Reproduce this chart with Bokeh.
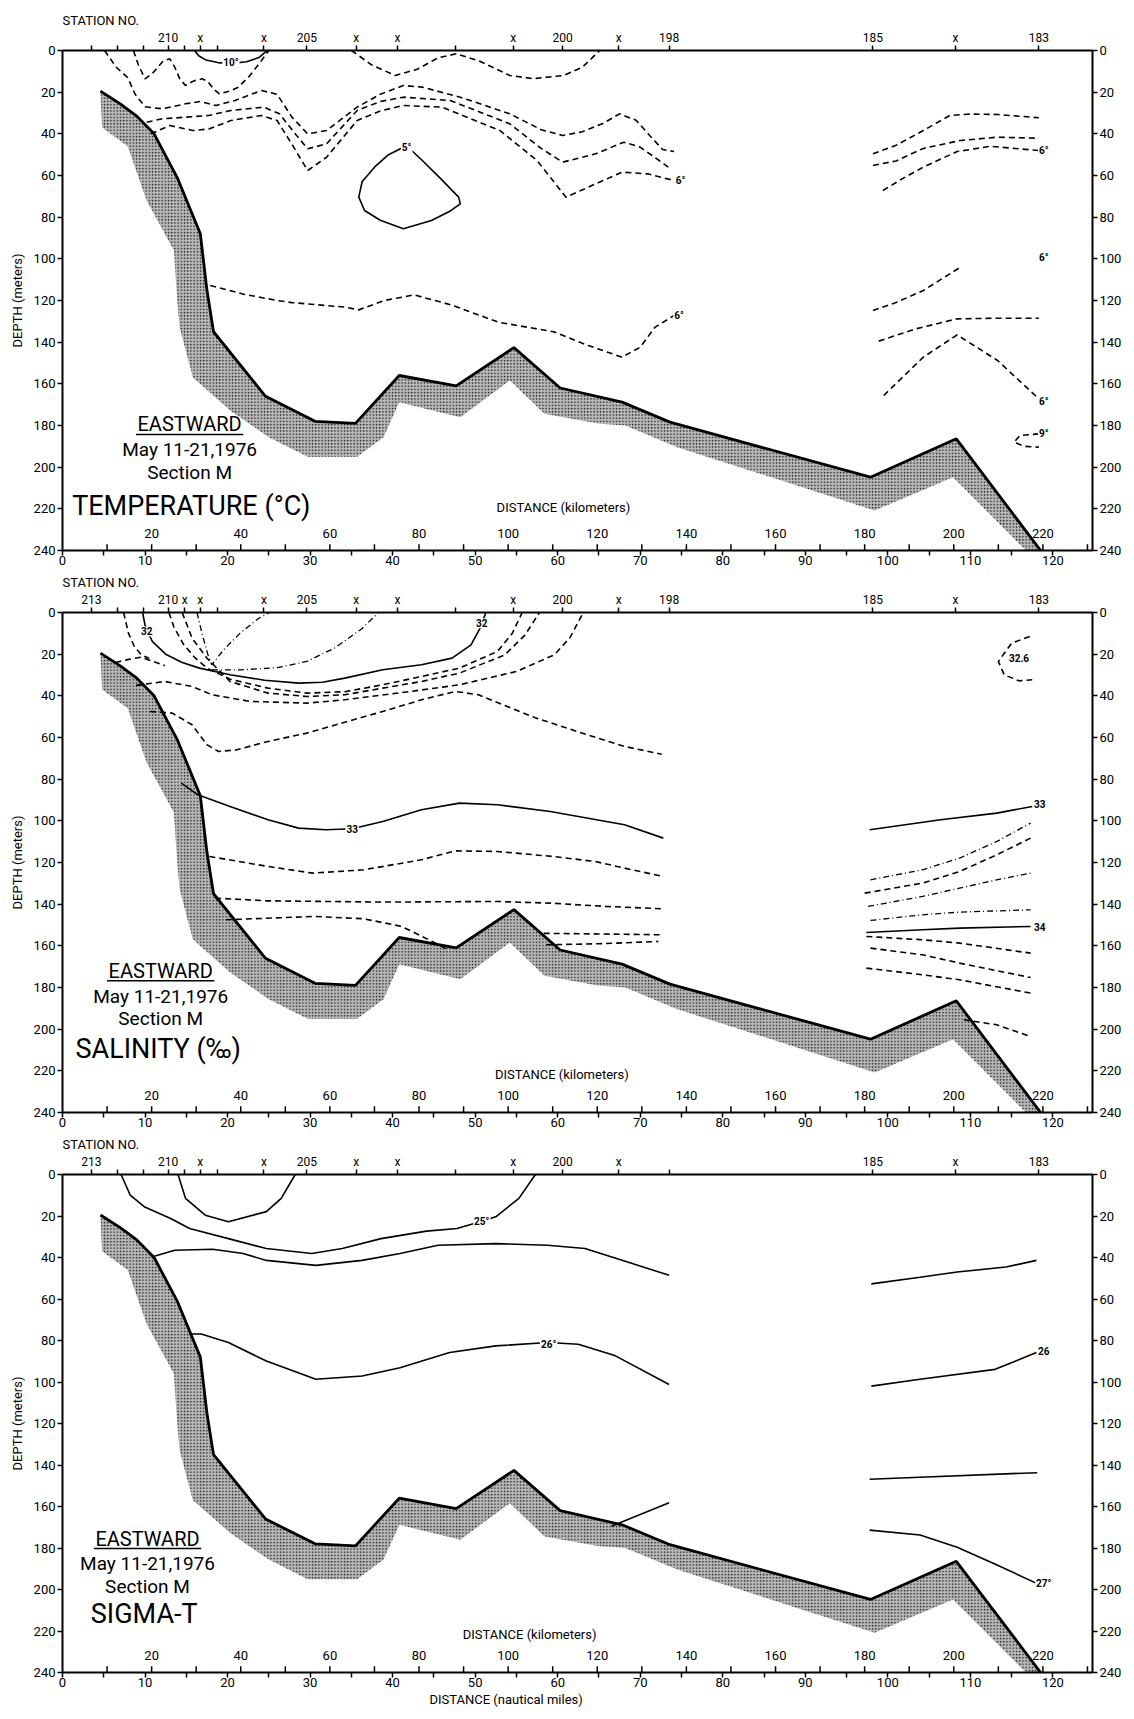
from bokeh.plotting import figure
from bokeh.models import Range1d, LinearAxis, FixedTicker, CustomJSTickFormatter, Title
from bokeh.layouts import column
from bokeh.embed import file_html
from bokeh.resources import INLINE
from bokeh.core.properties import value

FONT = "Roboto"
X_MAX = 124.8
KM_PER_NM = 1.852

# ---------------- axes data ----------------
depth_ticks = list(range(0, 241, 20))
nm_ticks = list(range(0, 121, 10))
nm_minor = list(range(5, 121, 10))
km_ticks = list(range(10, 231, 10))
km_labels = list(range(20, 221, 20))

station_pos = [3.5, 6.7, 9.8, 12.8, 14.8, 16.7, 18.8, 24.4, 29.6, 35.6, 40.6, 47.6,
               54.6, 60.6, 67.4, 73.5, 98.2, 108.2, 118.3]
stations_temp = ["", "", "", "210", "", "x", "", "x", "205", "x", "x", "", "x", "200",
                 "x", "198", "185", "x", "183"]
stations_sal = ["213", "", "", "210", "x", "x", "", "x", "205", "x", "x", "", "x", "200",
                "x", "198", "185", "x", "183"]
stations_sig = ["213", "", "", "210", "", "x", "", "x", "205", "x", "x", "", "x", "200",
                "x", "", "185", "x", "183"]

# ---------------- sea bed (nautical miles, metres) ----------------
bottom_top = [(4.6, 19.5), (7.0, 25.6), (9.0, 31.5), (11.1, 40), (13.9, 61), (16.7, 88),
              (17.5, 115), (18.3, 135), (24.6, 166), (30.6, 178), (35.5, 179), (40.8, 156),
              (47.7, 161), (54.7, 142.6), (60.3, 162), (67.8, 168.8), (73.6, 178.4),
              (97.9, 204.8), (108.3, 186.4), (118.7, 241)]
bottom_low = [(117.0, 241), (107.9, 204.8), (98.4, 220.8), (74.5, 190.4), (68.2, 180),
              (64.9, 179), (58.4, 174.4), (54.2, 158.4), (48.2, 176), (40.8, 168.8),
              (38.9, 185.6), (35.7, 195), (29.7, 195), (25.0, 185.6), (20.4, 173),
              (15.8, 157), (14.2, 133), (13.9, 120), (13.5, 96), (10.2, 72), (7.9, 46),
              (4.8, 37)]

# ---------------- temperature contours ----------------
temp_10 = [(16.0, 0), (16.5, 2.5), (17.4, 4.6), (18.8, 5.8), (20.5, 6.2), (22.3, 5.4),
           (23.8, 3.4), (24.8, 0)]
temp_d = [(8.6, 0), (9.2, 7), (10.0, 13.6), (10.9, 11), (12.2, 5), (13.0, 4), (13.6, 8),
          (14.2, 13.5), (14.9, 16.8), (15.9, 14.6), (16.9, 13.6), (17.6, 14.8), (18.3, 18.5),
          (19.0, 20.8), (20.2, 19.6), (21.3, 17.6), (22.6, 12.5), (23.8, 6.5), (25.0, 0)]
temp_a = [(5.1, 0), (6.5, 8), (7.9, 13), (8.8, 21), (10.0, 27), (12.1, 28), (14.9, 25.6),
          (16.7, 24.5), (18.6, 26.4), (20.9, 24), (24.1, 19.2), (26.0, 21), (27.8, 32),
          (29.7, 40), (32.0, 38.4), (35.7, 27.2), (38.5, 21), (41.3, 16.8), (43.6, 17.6),
          (48.2, 22.4), (54.2, 30.4), (58, 38), (60.6, 40.8), (63, 39), (65.5, 35),
          (67.5, 30.4), (69.5, 33.5), (71.2, 41), (72.7, 47.5), (74.1, 48.5)]
temp_b = [(10.2, 34.4), (12.1, 32.8), (14.9, 32), (17.7, 31.2), (20.4, 28.8), (24.4, 27.2),
          (26.3, 30.4), (28.0, 39), (29.7, 47.2), (32.0, 44.8), (35.7, 28.8), (38.5, 24.5),
          (41.3, 22.4), (47, 24), (54.2, 35.2), (58, 47), (60.6, 53.6), (64.6, 49.6),
          (68.0, 44), (70, 46.4), (72.3, 52.8), (73.4, 56)]
temp_c = [(10.7, 40), (13.0, 36), (15.8, 38.4), (17.8, 37.6), (20.4, 33.6), (24.1, 31.2),
          (26.0, 33.6), (27.8, 45), (29.7, 57.6), (32.0, 51.2), (35.7, 33.6), (38.5, 29),
          (41.3, 26.4), (46, 27.2), (53, 38.4), (57.5, 52.8), (61, 70.4), (64.6, 64),
          (67.8, 58.4), (70.9, 59.2), (74.1, 62.4)]
temp_e = [(35.0, 0), (37.5, 7), (40.3, 12), (43, 9), (45.5, 3.5), (47.7, 1.6), (50.5, 5),
          (54.2, 12), (57, 13.5), (60.7, 12), (63, 8), (65.1, 0)]
temp_5 = [(41.3, 46.4), (39.5, 50), (37.8, 56), (36.3, 63), (35.9, 70.4), (36.6, 76.8),
          (38.5, 81.5), (41.3, 85.6), (44.7, 81.6), (47, 77), (48.2, 73.6), (48, 70.4),
          (45.7, 61), (43.6, 52.8), (42.3, 48), (41.3, 46.4)]
temp_f = [(17.9, 112.8), (22, 117), (26, 120), (27.8, 121), (34.3, 123.2), (35.9, 124.5),
          (39, 120), (42.6, 117.3), (47, 122), (52.8, 130.4), (59.5, 135), (63.7, 141.6),
          (67.8, 147.2), (70, 142.4), (71.8, 132.8), (74.1, 127.2)]
temp_g1 = [(98.2, 49.6), (101, 45.5), (104.3, 38.4), (107.5, 31.2), (110, 30.5),
           (113.3, 30.7), (118.3, 32.3)]
temp_g2 = [(98.2, 55.2), (101, 53), (104.3, 47), (108.8, 43.2), (113.3, 41.6), (118.3, 42.1)]
temp_g3 = [(99.4, 67.2), (102, 61), (104.3, 56), (108.4, 48.5), (112.4, 46), (118.3, 48)]
temp_h1 = [(98.2, 124.8), (101, 121), (104.3, 115.2), (108.8, 104)]
temp_h2 = [(98.9, 139.5), (103.4, 133.6), (108.4, 128.8), (113.3, 128.5), (118.3, 128.5)]
temp_h3 = [(99.5, 165.6), (104.3, 147.2), (108.4, 136.5), (113.3, 148.8), (118.3, 167.2)]
temp_9 = [(118.3, 184), (116, 184.8), (115.3, 188), (116.5, 190), (118.3, 190.4)]
temp_solid = [temp_10, temp_5]
temp_dashed = [temp_d, temp_a, temp_b, temp_c, temp_e, temp_f, temp_g1, temp_g2, temp_g3,
               temp_h1, temp_h2, temp_h3, temp_9]
temp_dashdot = []
temp_lab_text = ["10°", "5°", "6°", "6°", "6°", "6°", "6°", "9°"]
temp_lab_x = [20.4, 41.7, 74.9, 74.7, 118.9, 118.9, 118.9, 118.9]
temp_lab_y = [5.9, 46.4, 62.4, 127.2, 48, 99.2, 168.5, 183.7]

# ---------------- salinity contours ----------------
sal_32 = [(9.7, 0), (10.0, 6), (10.4, 10), (10.9, 14), (12.5, 20), (14.5, 24), (16.6, 26.7),
          (20.3, 29.9), (24.5, 32.5), (28.6, 33.9), (31.5, 33.5), (34.2, 31.5), (38.8, 27.5),
          (43.5, 25.1), (47.2, 21.9), (49.5, 15.5), (50.6, 7.5), (51.3, 0)]
sal_s1 = [(7.4, 0), (8.0, 10), (8.7, 16.3), (9.6, 20.5), (10.5, 22)]
sal_s0 = [(6.4, 24), (8.0, 22.5), (9.5, 21.5), (11, 23.5), (12.4, 25.5)]
sal_s2 = [(12.9, 0), (13.5, 7), (14.7, 15.5), (16, 21.5), (17.5, 26.7), (20.3, 32),
          (24.9, 36.3), (29.6, 38.7), (34.2, 38), (38.8, 34.7), (43.5, 30.7), (48.1, 26.7),
          (52.7, 18.7), (54.5, 10), (55.7, 0)]
sal_s3 = [(14.5, 0), (15.7, 12.3), (17.5, 21.9), (20.3, 33.1), (24.9, 38.7), (29.6, 40.3),
          (34.2, 39.5), (38.8, 36.3), (43.5, 33.1), (48.1, 29.1), (53.6, 20.3), (56, 11),
          (57.8, 0)]
sal_s4 = [(8.9, 35), (12.4, 33.1), (15.7, 35.5), (18.1, 39.5), (22.8, 42.7), (29.6, 43.5),
          (34.2, 41.9), (41, 38.5), (48.1, 34.7), (55, 28.3), (59.6, 20.3), (61.5, 12),
          (63.1, 0)]
sal_v1 = [(16.3, 0), (16.9, 10), (17.6, 20), (18.1, 25.1), (19.5, 18), (21.5, 10), (23.7, 3),
          (25.1, 0)]
sal_v2 = [(18.1, 27.5), (21.7, 27.5), (26, 26.5), (29.6, 23.5), (33, 17), (36.2, 8), (38.3, 0)]
sal_s5 = [(10.6, 47.5), (13.3, 48.3), (15.7, 53.9), (17.5, 63.5), (18.9, 66.7), (21, 66),
          (24.9, 61.9), (29.6, 57.9), (38.8, 47.5), (43.5, 41.9), (47.6, 37.9), (50.4, 39.5),
          (57.4, 50.7), (63.6, 58.7), (68.1, 64.3), (72.6, 68)]
sal_33a = [(14.4, 81.9), (16.4, 87.5), (20.3, 93.1), (24.9, 99.5), (28.6, 103.5),
           (31.9, 104.3), (35.1, 103.8), (38.8, 100.3), (43.5, 94.7), (48.1, 91.5),
           (52.7, 92.3), (59.1, 95.5), (68.1, 101.9), (72.8, 108.3)]
sal_33b = [(97.8, 104.3), (106.4, 99.5), (113.2, 96.3), (117.5, 93.1)]
sal_s6 = [(17.8, 117.1), (24.9, 121.9), (30.3, 125.1), (36.5, 123.5), (43.5, 118.7),
          (47.6, 114.4), (52.7, 114.7), (59.4, 117.1), (64.5, 119.5), (68.1, 122.7),
          (72.8, 126.7)]
sal_s7 = [(18.5, 137.1), (24.9, 138.4), (38.8, 139), (52.7, 138.7), (59.1, 139.5),
          (65.9, 141.1), (72.6, 142.2)]
sal_s8 = [(19.8, 147.5), (30.5, 145.9), (36.5, 147), (41.1, 150.7), (44.8, 157.9),
          (46.7, 161.9)]
sal_s9a = [(58.3, 154), (65, 154.3), (72.6, 154.7)]
sal_s9b = [(58.6, 159.5), (65, 159), (72.2, 157.9)]
sal_r1 = [(97.9, 128.3), (104.2, 123.5), (108.7, 117.9), (113.2, 109.9), (117.3, 101.1)]
sal_r2 = [(97.2, 134.7), (104.2, 129.9), (108.7, 124.3), (113.2, 116.3), (117.3, 108.3)]
sal_r3 = [(97.6, 141.1), (104.2, 136.3), (108.7, 132.3), (113.2, 128.3), (117.3, 125.1)]
sal_r4 = [(97.9, 147.8), (104.2, 145.1), (108.7, 143.8), (117.3, 142.7)]
sal_34 = [(97.4, 153.6), (104.2, 152.3), (108.7, 151.5), (117.3, 150.7)]
sal_r6 = [(97.4, 155.5), (104.2, 157.1), (108.7, 158.7), (117.3, 163.5)]
sal_r7 = [(97.9, 161.1), (104.2, 164.3), (108.7, 168.3), (117.3, 175.2)]
sal_r8 = [(97.4, 170.7), (104.2, 173.9), (108.7, 176.3), (117.3, 182.7)]
sal_r9 = [(109.2, 195.5), (113.2, 197.9), (117.3, 203.5)]
sal_326 = [(117.2, 11.5), (115, 14.7), (113.4, 23.5), (114.1, 29.9), (115.9, 32.8),
           (117.5, 32.3)]
sal_solid = [sal_32, sal_33a, sal_33b, sal_34]
sal_dashed = [sal_s1, sal_s0, sal_s2, sal_s3, sal_s4, sal_s5, sal_s6, sal_s7, sal_s8,
              sal_s9a, sal_s9b, sal_r2, sal_r6, sal_r7, sal_r8, sal_r9, sal_326]
sal_dashdot = [sal_v1, sal_v2, sal_r1, sal_r3, sal_r4]
sal_lab_text = ["32", "32", "33", "33", "34", "32.6"]
sal_lab_x = [10.2, 50.8, 35.1, 118.4, 118.4, 115.9]
sal_lab_y = [9.1, 5.1, 103.8, 92.0, 151.0, 21.9]

# ---------------- sigma-t contours ----------------
sig_t1 = [(14.0, 0), (14.9, 11.5), (17.3, 19.6), (20.1, 22.8), (24.7, 17.9), (26.5, 11.5),
          (28.2, 0)]
sig_25 = [(7.1, 0), (8.2, 9.9), (9.9, 15.5), (13.1, 21.2), (15.4, 26), (20.1, 30.9),
          (24.7, 35.7), (30.2, 38.1), (33.9, 35.7), (38.6, 30.9), (44.1, 27.3), (47.8, 26),
          (50.8, 22.5), (52.5, 20.4), (55.3, 11.5), (57.3, 0)]
sig_t3a = [(10.8, 39.8), (13.6, 36.5), (18.2, 36), (21.9, 38.1), (24.7, 41.4), (30.7, 43.8),
           (36.3, 41.4), (40.9, 38.1), (45.5, 34.1), (52.5, 33.3), (58.8, 34.1), (63.3, 35.7),
           (67.9, 41.4), (73.5, 48.6)]
sig_t3b = [(98, 52.7), (103.9, 49.5), (108.4, 47), (114.3, 44.6), (118, 41.4)]
sig_26a = [(15.4, 76.9), (16.8, 76.9), (20.1, 81), (24.7, 89.9), (30.7, 98.7), (36.3, 97.1),
           (40.9, 93.1), (46.9, 85.8), (52.5, 82.6), (58.8, 81), (62.5, 81.8), (67, 87.4),
           (73.5, 101.2)]
sig_26b = [(98, 102), (103.9, 98.7), (113, 93.9), (118, 85.8)]
sig_t5 = [(97.8, 146.9), (103.9, 145.9), (118.1, 143.7)]
sig_27 = [(97.8, 171.4), (103.9, 173.7), (108.4, 179.6), (112.9, 187.6), (117.9, 196.8)]
sig_t7 = [(66.5, 169.5), (73.5, 158.2)]
sig_solid = [sig_t1, sig_25, sig_t3a, sig_t3b, sig_26a, sig_26b, sig_t5, sig_27, sig_t7]
sig_lab_text = ["25°", "26°", "26", "27°"]
sig_lab_x = [50.8, 58.9, 118.9, 118.9]
sig_lab_y = [22.5, 81.8, 85.0, 197.0]

# ---------------- panel annotations ----------------
panel_names = ["TEMPERATURE (°C)", "SALINITY (‰)", "SIGMA-T"]
info_x = [15.4, 11.9, 10.3]
info_y = [179.5, 171.9, 175.5]
name_x = [15.6, 11.6, 9.9]
name_y = [218.4, 209.3, 211.9]
km_title_x = [60.7, 60.5, 56.6]
km_title_y = [219.4, 221.8, 221.8]


def xs(c):
    return [pt[0] for pt in c]


def ys(c):
    return [pt[1] for pt in c]


def style_axis(ax):
    ax.axis_line_width = 2
    ax.axis_line_color = "black"
    ax.major_tick_line_width = 1.5
    ax.major_tick_line_color = "black"
    ax.major_tick_in = 0
    ax.major_tick_out = 5
    ax.minor_tick_in = 0
    ax.minor_tick_out = 5
    ax.minor_tick_line_width = 1.5
    ax.minor_tick_line_color = "black"
    ax.major_label_text_font = FONT
    ax.major_label_text_font_size = "13px"
    ax.major_label_text_color = "black"
    ax.major_label_standoff = 2
    ax.axis_label_text_font = FONT
    ax.axis_label_text_font_style = "normal"
    ax.axis_label_text_font_size = "13px"
    ax.axis_label_text_color = "black"


def make_panel(idx, station_labels, solid, dashed, dashdot, lab_text, lab_x, lab_y,
               frame_h, top_b, bot_b):
    p = figure(frame_width=1030, frame_height=frame_h,
               x_range=Range1d(0, X_MAX), y_range=Range1d(240, 0),
               x_axis_location=None, y_axis_location=None,
               output_backend="svg", toolbar_location=None,
               min_border_left=62, min_border_right=40,
               min_border_top=top_b, min_border_bottom=bot_b)
    p.outline_line_color = None
    p.grid.visible = False
    p.title = Title(text="STATION NO.", align="left", standoff=0, text_font=FONT,
                    text_font_size="13px", text_font_style="normal", text_color="black")

    left = LinearAxis(ticker=FixedTicker(ticks=depth_ticks), axis_label="DEPTH (meters)")
    style_axis(left)
    left.axis_label_standoff = 6
    p.add_layout(left, "left")
    right = LinearAxis(ticker=FixedTicker(ticks=depth_ticks))
    style_axis(right)
    p.add_layout(right, "right")
    below = LinearAxis(ticker=FixedTicker(ticks=nm_ticks, minor_ticks=nm_minor))
    style_axis(below)
    below.major_label_standoff = 0
    p.add_layout(below, "below")
    above = LinearAxis(ticker=FixedTicker(ticks=station_pos),
                       formatter=CustomJSTickFormatter(args=dict(labs=station_labels),
                                                       code="return labs[index];"))
    style_axis(above)
    above.major_label_standoff = 1
    above.major_label_text_font_size = "12px"
    p.add_layout(above, "above")

    # km scale inside the frame
    kx = [k / KM_PER_NM for k in km_ticks]
    p.segment(x0=kx, y0=[240] * len(kx), x1=kx, y1=[237] * len(kx),
              line_color="black", line_width=1.5)
    p.text(x=[k / KM_PER_NM for k in km_labels], y=[240] * len(km_labels),
           text=[str(k) for k in km_labels], y_offset=-17, text_align="center",
           text_baseline="middle", text_font=value(FONT), text_font_size="13px",
           text_color="black")
    p.text(x=[km_title_x[idx]], y=[km_title_y[idx]], text=["DISTANCE (kilometers)"],
           text_align="center", text_baseline="middle", text_font=value(FONT),
           text_font_size="13px", text_color="black")

    # sea bed
    px = xs(bottom_top) + xs(bottom_low)
    py = ys(bottom_top) + ys(bottom_low)
    p.patch(x=px, y=py, fill_color="#b9b9b9", line_color=None,
            hatch_pattern="dot", hatch_color="#202020", hatch_scale=3.2, hatch_weight=1.3)
    p.line(x=xs(bottom_top), y=ys(bottom_top), line_color="black", line_width=2.8)

    for c in solid:
        p.line(x=xs(c), y=ys(c), line_color="black", line_width=1.6)
    for c in dashed:
        p.line(x=xs(c), y=ys(c), line_color="black", line_width=1.6, line_dash="6 4")
    for c in dashdot:
        p.line(x=xs(c), y=ys(c), line_color="black", line_width=1.3, line_dash="6 3 1 3")

    p.text(x=lab_x, y=lab_y, text=lab_text, text_align="center", text_baseline="middle",
           text_font=value(FONT), text_font_size="10px", text_font_style="bold",
           text_color="black", background_fill_color="white", padding=1)

    # station block text
    p.text(x=[info_x[idx]], y=[info_y[idx]], text=["EASTWARD"], text_align="center",
           text_baseline="middle", text_font=value(FONT), text_font_size="20px",
           text_color="black")
    p.segment(x0=[info_x[idx] - 6.5], y0=[info_y[idx] + 4.8], x1=[info_x[idx] + 6.5],
              y1=[info_y[idx] + 4.8], line_color="black", line_width=1.5)
    p.text(x=[info_x[idx]] * 2, y=[info_y[idx] + 12.2, info_y[idx] + 23.2],
           text=["May 11-21,1976", "Section M"], text_align="center",
           text_baseline="middle", text_font=value(FONT), text_font_size="19px",
           text_color="black")
    p.text(x=[name_x[idx]], y=[name_y[idx]], text=[panel_names[idx]], text_align="center",
           text_baseline="middle", text_font=value(FONT), text_font_size="27px",
           text_color="black")
    return p


p1 = make_panel(0, stations_temp, temp_solid, temp_dashed, temp_dashdot,
                temp_lab_text, temp_lab_x, temp_lab_y, 500, 50, 22)
p2 = make_panel(1, stations_sal, sal_solid, sal_dashed, sal_dashdot,
                sal_lab_text, sal_lab_x, sal_lab_y, 500, 39, 22)
p3 = make_panel(2, stations_sig, sig_solid, [], [],
                sig_lab_text, sig_lab_x, sig_lab_y, 498, 40, 42)
p3.add_layout(Title(text="DISTANCE (nautical miles)", align="left", offset=367, standoff=0,
                    text_font=FONT, text_font_size="13px", text_font_style="normal",
                    text_color="black"), "below")

layout = column(p1, p2, p3)
open("out.html", "w").write(file_html(layout, INLINE))
